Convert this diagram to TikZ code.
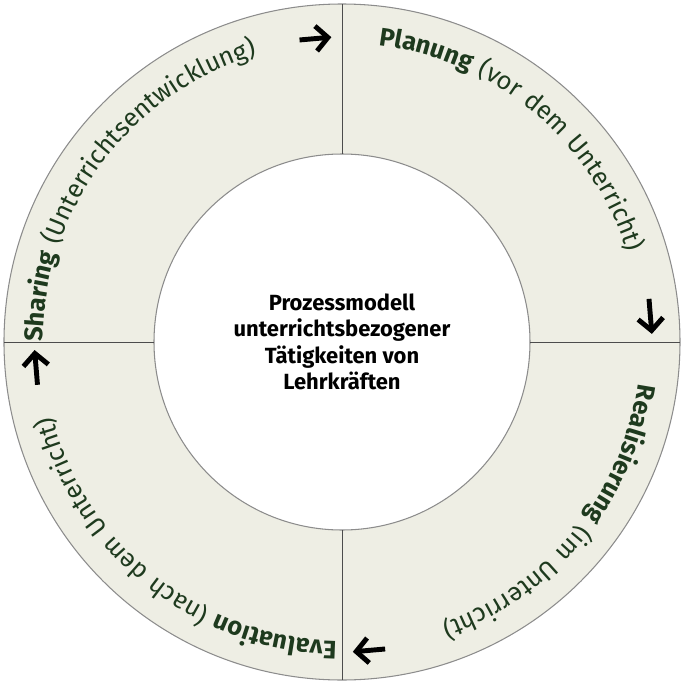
\documentclass[tikz,border=0pt]{standalone}
\usepackage{fontspec}
\setmainfont{Fira Sans}
\usetikzlibrary{decorations.text,arrows.meta}
\definecolor{ringfill}{HTML}{EEEEE4}
\definecolor{ringtext}{HTML}{1E3A1E}
\newcommand{\ringfont}{\fontsize{14.5}{17}\selectfont\addfontfeatures{LetterSpace=6}}
\tikzset{
  ring/.style={fill=ringfill,draw=black!45,line width=0.6pt,even odd rule},
  arcword/.style={decorate,decoration={text along path,text color=ringtext,
      text={#1},text align=left}},
  turn/.style={line width=2.8pt,-{Straight Barb[length=2.4mm,width=5mm]}}
}
\begin{document}
\begin{tikzpicture}
\useasboundingbox (-6.84,-6.92) rectangle (6.86,6.84);
\path[ring] (0,0) circle (6.76) (0,0) circle (3.76);
\draw[black!70,line width=0.5pt] (0,3.76) -- (0,6.76) (0,-3.76) -- (0,-6.76)
  (3.76,0) -- (6.76,0) (-3.76,0) -- (-6.76,0);
\node[align=center,font=\bfseries\fontsize{12.5}{15}\selectfont] (title) at (0,0)
  {Prozessmodell\\unterrichtsbezogener\\Tätigkeiten von\\Lehrkräften};
% ring texts, clockwise
\path[arcword={|\ringfont\bfseries|Planung|\ringfont| (vor dem Unterricht)}]
  (83:5.98) arc[start angle=83,end angle=-40,radius=5.98];
\path[arcword={|\ringfont\bfseries|Realisierung|\ringfont| (im Unterricht)}]
  (-8:5.98) arc[start angle=-8,end angle=-130,radius=5.98];
\path[arcword={|\ringfont\bfseries|Evaluation|\ringfont| (nach dem Unterricht)}]
  (-91:5.98) arc[start angle=-91,end angle=-220,radius=5.98];
\path[arcword={|\ringfont\bfseries|Sharing|\ringfont| (Unterrichtsentwicklung)}]
  (180:5.98) arc[start angle=180,end angle=50,radius=5.98];
% arrows
\coordinate (a1) at (98:6.1); \coordinate (b1) at (92:6.1);
\coordinate (a2) at (8:6.2);  \coordinate (b2) at (1.5:6.2);
\coordinate (a3) at (-82:6.2); \coordinate (b3) at (-88:6.2);
\coordinate (a4) at (188:6.15); \coordinate (b4) at (181.5:6.15);
\foreach \i in {1,...,4}
  \draw[turn] (a\i) -- (b\i);
\end{tikzpicture}
\end{document}
